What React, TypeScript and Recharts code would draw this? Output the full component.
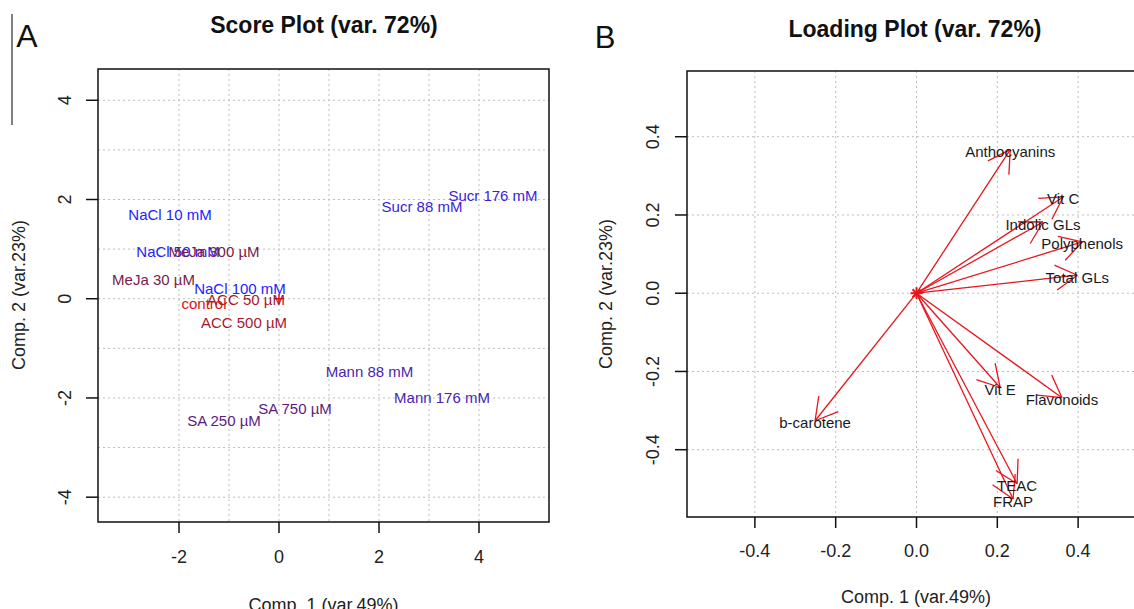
import { ScatterChart, Scatter, XAxis, YAxis, CartesianGrid, ReferenceArea, ReferenceLine } from 'recharts';

const FONT = '"Liberation Sans", Arial, Helvetica, sans-serif';

// panel A - scores
const scoreLabels = [
    'NaCl 10 mM', 'NaCl 50 mM', 'MeJa 300 µM', 'MeJa 30 µM', 'NaCl 100 mM', 'control', 'ACC 50 µM',
    'ACC 500 µM', 'Sucr 88 mM', 'Sucr 176 mM', 'Mann 88 mM', 'Mann 176 mM', 'SA 750 µM', 'SA 250 µM',
];
const scoreComp1 = [-2.18, -2.02, -1.3, -2.51, -0.78, -1.5, -0.66, -0.7, 2.86, 4.28, 1.81, 3.26, 0.32, -1.1];
const scoreComp2 = [1.7, 0.96, 0.96, 0.39, 0.21, -0.09, -0.01, -0.47, 1.86, 2.09, -1.46, -1.99, -2.21, -2.45];
const scoreXTicks = [-2, 0, 2, 4];
const scoreYTicks = [-4, -2, 0, 2, 4];
const scoreXGrid = [-2, -1, 0, 1, 2, 3, 4];
const scoreYGrid = [-4, -3, -2, -1, 0, 1, 2, 3, 4];

// panel B - loadings
const loadingNames = ['Anthocyanins', 'Vit C', 'Indolic GLs', 'Polyphenols', 'Total GLs', 'b-carotene', 'Vit E', 'Flavonoids', 'TEAC', 'FRAP'];
const loadingComp1 = [0.232, 0.363, 0.313, 0.41, 0.398, -0.251, 0.207, 0.36, 0.249, 0.239];
const loadingComp2 = [0.367, 0.246, 0.182, 0.131, 0.046, -0.326, -0.241, -0.267, -0.487, -0.526];
const loadingTicks = [-0.4, -0.2, 0, 0.2, 0.4];

const origin = [{ x: 0, y: 0 }];

const groupColor: Record<string, string> = {
    NaCl: '#2222ff',
    Sucr: '#3a1ed8',
    Mann: '#4a1fae',
    SA: '#5c1a80',
    MeJa: '#7a1a48',
    ACC: '#a8182c',
    control: '#dd1111',
};

const scoreData = scoreLabels.map((name, i) => ({ name, x: scoreComp1[i], y: scoreComp2[i] }));
const loadingData = loadingNames.map((name, i) => ({ name, x: loadingComp1[i], y: loadingComp2[i] }));

const makeXTick = (fmt: (v: number) => string, gap: number) => (p: any) => (
    <g>
        <line x1={p.x} x2={p.x} y1={p.y} y2={p.y + 11} stroke="#111" strokeWidth={1.5} />
        <text x={p.x} y={p.y + gap} textAnchor="middle" dominantBaseline="central" fontSize={18} fill="#222" fontFamily={FONT}>
            {fmt(p.payload.value)}
        </text>
    </g>
);

const makeYTick = (fmt: (v: number) => string, gap: number) => (p: any) => (
    <g>
        <line x1={p.x} x2={p.x - 12} y1={p.y} y2={p.y} stroke="#111" strokeWidth={1.5} />
        <text
            x={p.x - gap}
            y={p.y}
            transform={`rotate(-90 ${p.x - gap} ${p.y})`}
            textAnchor="middle"
            dominantBaseline="central"
            fontSize={18}
            fill="#222"
            fontFamily={FONT}
        >
            {fmt(p.payload.value)}
        </text>
    </g>
);

const intFmt = (v: number) => String(v);
const decFmt = (v: number) => v.toFixed(1);

const ScoreLabel = (p: any) => (
    <text
        x={p.cx}
        y={p.cy}
        textAnchor="middle"
        dominantBaseline="central"
        fontSize={15}
        fontFamily={FONT}
        fill={groupColor[p.payload.name.split(' ')[0]]}
    >
        {p.payload.name}
    </text>
);

const LoadingLabel = (p: any) => (
    <text x={p.cx} y={p.cy + 2} textAnchor="middle" dominantBaseline="central" fontSize={15} fontFamily={FONT} fill="#1a1a1a">
        {p.payload.name}
    </text>
);

const PlusMark = (p: any) => (
    <g stroke="#dd1111" strokeWidth={1.5}>
        <line x1={p.cx - 5} x2={p.cx + 5} y1={p.cy} y2={p.cy} />
        <line x1={p.cx} x2={p.cx} y1={p.cy - 5} y2={p.cy + 5} />
    </g>
);

const StarMark = (p: any) => (
    <g stroke="#e8141c" strokeWidth={2}>
        <line x1={p.cx - 6} x2={p.cx + 6} y1={p.cy} y2={p.cy} />
        <line x1={p.cx} x2={p.cx} y1={p.cy - 6} y2={p.cy + 6} />
        <line x1={p.cx - 4} x2={p.cx + 4} y1={p.cy - 4} y2={p.cy + 4} />
        <line x1={p.cx - 4} x2={p.cx + 4} y1={p.cy + 4} y2={p.cy - 4} />
    </g>
);

const Arrow = (p: any) => {
    const { x1, y1, x2, y2 } = p;
    const back = Math.atan2(y1 - y2, x1 - x2);
    const len = 25;
    const spread = Math.PI / 6;
    return (
        <g stroke="#e8141c" strokeWidth={1.3} fill="none">
            <line x1={x1} y1={y1} x2={x2} y2={y2} />
            <line x1={x2} y1={y2} x2={x2 + len * Math.cos(back - spread)} y2={y2 + len * Math.sin(back - spread)} />
            <line x1={x2} y1={y2} x2={x2 + len * Math.cos(back + spread)} y2={y2 + len * Math.sin(back + spread)} />
        </g>
    );
};

const scoreXDomain: [number, number] = [-3.62, 5.4];
const scoreYDomain: [number, number] = [-4.5, 4.63];
const loadXDomain: [number, number] = [-0.568, 0.568];
const loadYDomain: [number, number] = [-0.572, 0.568];

export default function App() {
    return (
        <div style={{ position: 'fixed', left: 0, top: 0, width: 1134, height: 609, overflow: 'hidden', background: '#fff', fontFamily: FONT }}>
            <div style={{ position: 'absolute', left: 0, top: 0 }}>
                <ScatterChart width={560} height={609} margin={{ top: 69, right: 11, bottom: 47, left: 58 }}>
                    <CartesianGrid stroke="#bdbdbd" strokeDasharray="2 3" horizontalValues={scoreYGrid} verticalValues={scoreXGrid} />
                    <XAxis
                        type="number"
                        dataKey="x"
                        domain={scoreXDomain}
                        allowDataOverflow
                        ticks={scoreXTicks}
                        height={40}
                        axisLine={false}
                        tickLine={false}
                        tickSize={0}
                        tickMargin={0}
                        interval={0}
                        tick={makeXTick(intFmt, 35)}
                    />
                    <YAxis
                        type="number"
                        dataKey="y"
                        domain={scoreYDomain}
                        allowDataOverflow
                        ticks={scoreYTicks}
                        width={40}
                        axisLine={false}
                        tickLine={false}
                        tickSize={0}
                        tickMargin={0}
                        interval={0}
                        tick={makeYTick(intFmt, 33)}
                    />
                    <ReferenceArea
                        x1={scoreXDomain[0]}
                        x2={scoreXDomain[1]}
                        y1={scoreYDomain[0]}
                        y2={scoreYDomain[1]}
                        fill="none"
                        stroke="#111"
                        strokeWidth={1.5}
                        ifOverflow="visible"
                    />
                    <Scatter data={origin} shape={PlusMark} isAnimationActive={false} />
                    <Scatter data={scoreData} shape={ScoreLabel} isAnimationActive={false} />
                </ScatterChart>
            </div>
            <div style={{ position: 'absolute', left: 580, top: 0 }}>
                <ScatterChart width={580} height={609} margin={{ top: 71, right: 14, bottom: 52, left: 67 }}>
                    <CartesianGrid stroke="#bdbdbd" strokeDasharray="2 3" horizontalValues={loadingTicks} verticalValues={loadingTicks} />
                    <XAxis
                        type="number"
                        dataKey="x"
                        domain={loadXDomain}
                        allowDataOverflow
                        ticks={loadingTicks}
                        height={40}
                        axisLine={false}
                        tickLine={false}
                        tickSize={0}
                        tickMargin={0}
                        interval={0}
                        tick={makeXTick(decFmt, 34)}
                    />
                    <YAxis
                        type="number"
                        dataKey="y"
                        domain={loadYDomain}
                        allowDataOverflow
                        ticks={loadingTicks}
                        width={40}
                        axisLine={false}
                        tickLine={false}
                        tickSize={0}
                        tickMargin={0}
                        interval={0}
                        tick={makeYTick(decFmt, 34)}
                    />
                    <ReferenceArea
                        x1={loadXDomain[0]}
                        x2={loadXDomain[1]}
                        y1={loadYDomain[0]}
                        y2={loadYDomain[1]}
                        fill="none"
                        stroke="#111"
                        strokeWidth={1.5}
                        ifOverflow="visible"
                    />
                    {loadingData.map((d) => (
                        <ReferenceLine
                            key={d.name}
                            segment={[{ x: 0, y: 0 }, { x: d.x, y: d.y }]}
                            shape={Arrow}
                            ifOverflow="visible"
                        />
                    ))}
                    <Scatter data={origin} shape={StarMark} isAnimationActive={false} />
                    <Scatter data={loadingData} shape={LoadingLabel} isAnimationActive={false} />
                </ScatterChart>
            </div>
            <svg width={1134} height={609} style={{ position: 'absolute', left: 0, top: 0, pointerEvents: 'none' }} fontFamily={FONT}>
                <line x1={12} x2={12} y1={14} y2={125} stroke="#555" strokeWidth={1.5} />
                <text x={27} y={36} textAnchor="middle" dominantBaseline="central" fontSize={32} fill="#111">A</text>
                <text x={605} y={37} textAnchor="middle" dominantBaseline="central" fontSize={31} fill="#111">B</text>
                <text x={324} y={25} textAnchor="middle" dominantBaseline="central" fontSize={23} fontWeight="bold" fill="#111">
                    Score Plot (var. 72%)
                </text>
                <text x={915} y={29} textAnchor="middle" dominantBaseline="central" fontSize={23} fontWeight="bold" fill="#111">
                    Loading Plot (var. 72%)
                </text>
                <text x={323.5} y={605} textAnchor="middle" dominantBaseline="central" fontSize={18} fill="#222">
                    Comp. 1 (var.49%)
                </text>
                <text x={916} y={597} textAnchor="middle" dominantBaseline="central" fontSize={18} fill="#222">
                    Comp. 1 (var.49%)
                </text>
                <text x={19} y={295} transform="rotate(-90 19 295)" textAnchor="middle" dominantBaseline="central" fontSize={18} fill="#222">
                    Comp. 2 (var.23%)
                </text>
                <text x={606} y={294} transform="rotate(-90 606 294)" textAnchor="middle" dominantBaseline="central" fontSize={18} fill="#222">
                    Comp. 2 (var.23%)
                </text>
            </svg>
        </div>
    );
}
